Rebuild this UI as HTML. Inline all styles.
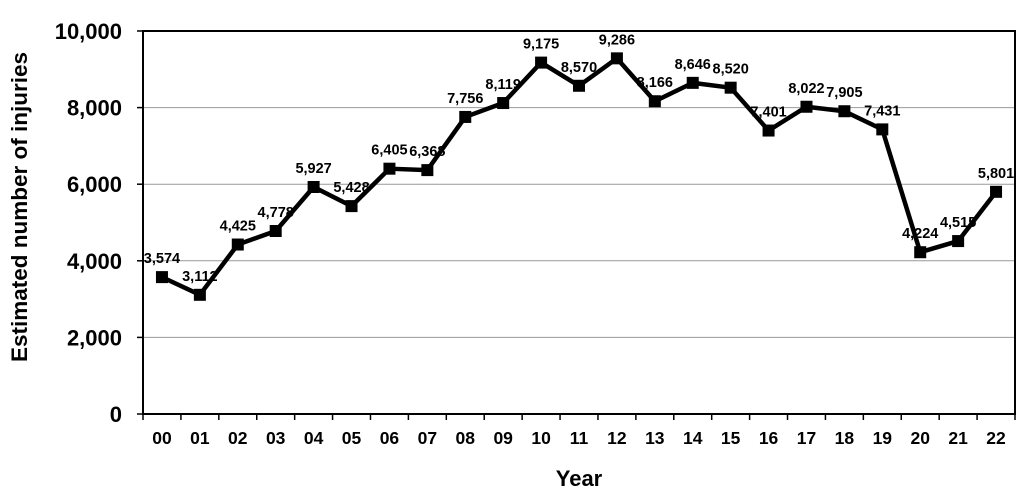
<!DOCTYPE html>
<html><head><style>body{margin:0;background:#fff}svg{display:block}text{font-family:"Liberation Sans",Arial,sans-serif;font-weight:bold;fill:#000}</style></head>
<body>
<svg id="s" width="1024" height="503" xmlns="http://www.w3.org/2000/svg"></svg>
<script>
const v=[3574,3112,4425,4778,5927,5428,6405,6368,7756,8119,9175,8570,9286,8166,8646,8520,7401,8022,7905,7431,4224,4515,5801];
const L=143,R=1015,T=31,B=414,w=(R-L)/23;
const X=i=>L+w*(i+0.5),Y=val=>B-(B-T)*val/10000;
let h='';
for(let k=1;k<=5;k++){const y=Y(k*2000);h+=`<line x1="${L}" y1="${y}" x2="${R}" y2="${y}" stroke="#999" stroke-width="1"/>`;}
h+=`<rect x="${L}" y="${T}" width="${R-L}" height="${B-T}" fill="none" stroke="#000" stroke-width="2"/>`;
for(let k=0;k<=5;k++){const y=Y(k*2000);h+=`<line x1="${L-6}" y1="${y}" x2="${L}" y2="${y}" stroke="#000" stroke-width="1.5"/><text x="${L-21}" y="${y+8}" font-size="22" text-anchor="end">${(k*2000).toLocaleString('en-US')}</text>`;}
for(let i=0;i<=23;i++){const x=L+w*i;h+=`<line x1="${x}" y1="${B}" x2="${x}" y2="${B+6}" stroke="#000" stroke-width="1.5"/>`;}
for(let i=0;i<23;i++){h+=`<text x="${X(i)}" y="${B+30}" font-size="17.5" text-anchor="middle">${String(i).padStart(2,'0')}</text>`;}
h+=`<polyline fill="none" stroke="#000" stroke-width="4.5" stroke-linejoin="round" points="${v.map((a,i)=>X(i)+','+Y(a)).join(' ')}"/>`;
v.forEach((a,i)=>{h+=`<rect x="${X(i)-6}" y="${Y(a)-6}" width="12" height="12" fill="#000"/><text x="${X(i)}" y="${Y(a)-14}" font-size="14.5" text-anchor="middle">${a.toLocaleString('en-US')}</text>`;});
h+=`<text x="579" y="486" font-size="22" text-anchor="middle">Year</text>`;
h+=`<text transform="translate(27,207) rotate(-90)" font-size="22.5" text-anchor="middle">Estimated number of injuries</text>`;
document.getElementById('s').innerHTML=h;
</script>
</body></html>
